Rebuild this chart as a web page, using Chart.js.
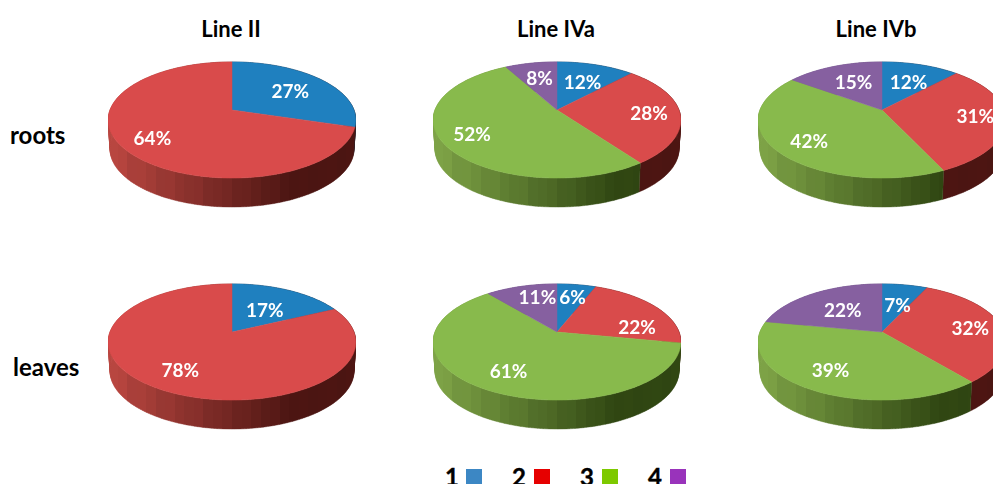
<!DOCTYPE html>
<html>
<head>
<meta charset="utf-8">
<script src="https://cdn.jsdelivr.net/npm/chart.js@4"></script>
<style>
html, body { margin: 0; padding: 0; background: #fff; }
body { position: relative; width: 993px; height: 484px; overflow: hidden; font-family: Lato, sans-serif; font-weight: 700; color: #000; }
canvas { position: absolute; }
.txt { position: absolute; white-space: nowrap; line-height: 1; }
.head { font-size: 22px; transform: translateX(-50%); top: 18px; }
.row { font-size: 24px; }
.num { font-size: 24px; top: 465px; -webkit-text-stroke: 0.4px #000; }
.sq { position: absolute; top: 469px; width: 16px; height: 15px; }
</style>
</head>
<body>
<div class="txt head" style="left:231px">Line II</div>
<div class="txt head" style="left:556px">Line IVa</div>
<div class="txt head" style="left:876px">Line IVb</div>
<div class="txt row" style="left:10px;top:123px">roots</div>
<div class="txt row" style="left:13px;top:355px">leaves</div>
<div class="txt num" style="left:445px">1</div><div class="sq" style="left:466px;background:#3c87c4"></div>
<div class="txt num" style="left:512px">2</div><div class="sq" style="left:534px;background:#e60000"></div>
<div class="txt num" style="left:580px">3</div><div class="sq" style="left:602px;background:#7dc900"></div>
<div class="txt num" style="left:648px">4</div><div class="sq" style="left:670px;background:#9933bb"></div>
<script>
// percent values, order is series 1,2,3,4
const categories = ['1', '2', '3', '4'];
const rootsLineII = [27, 64, 0, 0];
const rootsLineIVa = [12, 28, 52, 8];
const rootsLineIVb = [12, 31, 42, 15];
const leavesLineII = [17, 78, 0, 0];
const leavesLineIVa = [6, 22, 61, 11];
const leavesLineIVb = [7, 32, 39, 22];

const faceColors = ['#1f80bf', '#d94b4b', '#88ba4c', '#8660a0'];
const sideLight = [[70, 120, 170], [184, 70, 64], [125, 162, 70], [120, 90, 150]];
const sideDark = [[48, 30, 34], [76, 21, 18], [48, 70, 18], [60, 40, 80]];

// tilt of the fake 3d view
const persp = 0.172;
const squash = 0.4545;
const flatten = 0.984;
const depth = 29;

function project(el, ang, f) {
    const u = Math.cos(ang) * f, v = Math.sin(ang) * f;
    const w = 1 - persp * v;
    return [el.x + el.outerRadius * flatten * u / w, el.y + el.outerRadius * squash * v / w];
}

function arcPoints(el) {
    const pts = [];
    const n = Math.max(2, Math.ceil((el.endAngle - el.startAngle) / 0.02));
    for (let i = 0; i <= n; i++) {
        pts.push(project(el, el.startAngle + (el.endAngle - el.startAngle) * i / n, 1));
    }
    return pts;
}

function sideGradient(ctx, el, idx) {
    const left = el.x - el.outerRadius, width = el.outerRadius * 2;
    const g = ctx.createLinearGradient(left, 0, left + width, 0);
    const bands = 26;
    for (let i = 0; i < bands; i++) {
        const t = Math.min(1, (i / bands) / 0.72);
        const wob = 1 + 0.02 * Math.sin(i * 2.3);
        const c = sideLight[idx].map((l, k) => Math.round((l + (sideDark[idx][k] - l) * t) * wob));
        const col = 'rgb(' + c.join(',') + ')';
        g.addColorStop(i / bands, col);
        g.addColorStop((i + 1) / bands, col);
    }
    return g;
}

const pie3d = {
    id: 'pie3d',
    beforeDatasetDraw(chart) {
        const ctx = chart.ctx;
        const arcs = chart.getDatasetMeta(0).data;
        ctx.save();
        // side wall first, the top face covers the back of it
        arcs.forEach((el, i) => {
            if (el.endAngle - el.startAngle <= 0) return;
            const pts = arcPoints(el);
            const low = p => [el.x + (p[0] - el.x) * 0.985, p[1] + depth];
            ctx.beginPath();
            for (let k = 0; k < pts.length - 1; k++) {
                const a = pts[k], b = pts[k + 1], c = low(b), d = low(a);
                ctx.moveTo(a[0], a[1]);
                ctx.lineTo(b[0], b[1]);
                ctx.lineTo(c[0], c[1]);
                ctx.lineTo(d[0], d[1]);
                ctx.closePath();
            }
            const g = sideGradient(ctx, el, i);
            ctx.fillStyle = g;
            ctx.strokeStyle = g;
            ctx.lineWidth = 0.4;
            ctx.fill();
            ctx.stroke();
        });
        arcs.forEach((el, i) => {
            if (el.endAngle - el.startAngle <= 0) return;
            ctx.beginPath();
            ctx.moveTo(el.x, el.y);
            arcPoints(el).forEach(p => ctx.lineTo(p[0], p[1]));
            ctx.closePath();
            ctx.fillStyle = faceColors[i];
            ctx.strokeStyle = faceColors[i];
            ctx.lineWidth = 0.5;
            ctx.fill();
            ctx.stroke();
        });
        // percent labels
        ctx.fillStyle = '#fff';
        ctx.font = '700 19px Lato, sans-serif';
        ctx.textAlign = 'center';
        ctx.textBaseline = 'middle';
        const values = chart.data.datasets[0].data;
        const nudge = chart.options.plugins.pie3d.nudge;
        arcs.forEach((el, i) => {
            if (!values[i]) return;
            const mid = (el.startAngle + el.endAngle) / 2;
            const reach = Math.sin(mid) < -0.3 ? 0.6 : 0.75;
            const p = project(el, mid, reach);
            ctx.fillText(values[i] + '%', p[0] + nudge[i][0], p[1] + nudge[i][1]);
        });
        ctx.restore();
        return false;
    }
};

function addPie(values, cx, cy, nudge) {
    const canvas = document.createElement('canvas');
    canvas.width = 248;
    canvas.height = 248;
    canvas.style.left = (cx - 124) + 'px';
    canvas.style.top = (cy - 124) + 'px';
    document.body.appendChild(canvas);
    new Chart(canvas.getContext('2d'), {
        type: 'pie',
        data: {
            labels: categories,
            datasets: [{ data: values, backgroundColor: faceColors, borderWidth: 0 }]
        },
        options: {
            responsive: false,
            animation: false,
            plugins: { legend: { display: false }, tooltip: { enabled: false }, pie3d: { nudge: nudge } }
        },
        plugins: [pie3d]
    });
}

// label shifts, the original labels were placed by hand
addPie(rootsLineII, 232, 110, [[3, 1], [0, 2], [0, 0], [0, 0]]);
addPie(rootsLineIVa, 557, 110, [[1, 2], [0, 1], [-2, 1], [-1, -1]]);
addPie(rootsLineIVb, 882, 110, [[2, 2], [1, 0], [4, 3], [2, 0]]);
addPie(leavesLineII, 232, 332, [[-3, 5], [3, -1], [0, 0], [0, 0]]);
addPie(leavesLineIVa, 557, 332, [[3, -4], [19, 11], [4, -1], [3, -5]]);
addPie(leavesLineIVb, 882, 332, [[1, 4], [-1, 2], [1, -2], [4, 3]]);
</script>
</body>
</html>
